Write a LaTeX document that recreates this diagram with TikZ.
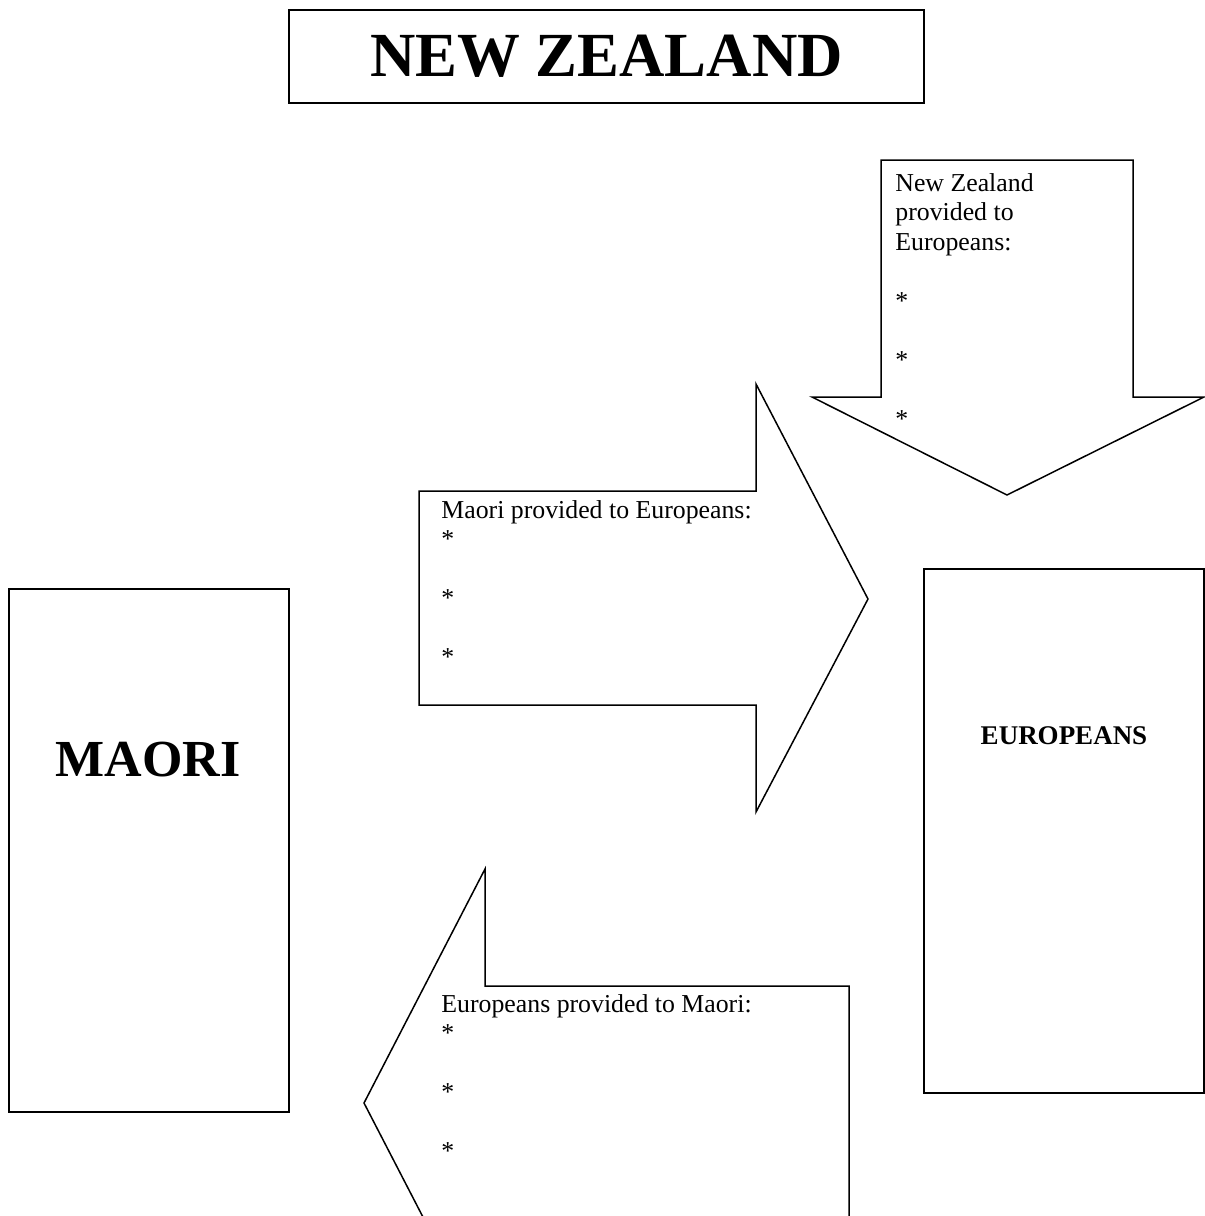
\documentclass[tikz,border=0pt]{standalone}
\usepackage{fontspec}
\setmainfont{Liberation Serif}
\newcommand{\blockln}[1]{\hbox{\strut #1}}
\begin{document}
\begin{tikzpicture}[x=0.5pt,y=-0.5pt,
  outline/.style={draw=black,line width=0.75pt,line join=miter},
  boxnode/.style={draw=black,line width=0.75pt,rectangle,inner sep=0pt},
  bodytext/.style={anchor=base west,inner sep=0pt,font=\fontsize{12.9}{14.75}\selectfont}]
\useasboundingbox (0,0) rectangle (1205,1216);
\clip (0,0) rectangle (1205,1216);
% title
\node[boxnode,minimum width=317.5pt,minimum height=46.5pt] (title) at (606.5,56.5) {};
\node[inner sep=0pt,font=\fontsize{31.4}{36}\selectfont\bfseries] (titletext) at (606.5,56.5) {NEW ZEALAND};
% Maori box
\node[boxnode,minimum width=140pt,minimum height=261.5pt] (maori) at (149,850.5) {};
\node[inner sep=0pt,font=\fontsize{26}{30}\selectfont\bfseries] (maoritext) at (148,760) {MAORI};
% Europeans box
\node[boxnode,minimum width=140pt,minimum height=262pt] (europeans) at (1064,831) {};
\node[inner sep=0pt,font=\fontsize{13.5}{16}\selectfont\bfseries] (europeanstext) at (1064,736) {EUROPEANS};
% down arrow: New Zealand -> Europeans
\draw[outline] (881,160) -- (1133,160) -- (1133,397) -- (1204,397) -- (1007,495) -- (812,397) -- (881,397) -- cycle;
\node[bodytext] (nztext) at (895,191) {\vtop{\hbox{New Zealand}\hbox{provided to}\hbox{Europeans:}\hbox{}\hbox{*}\hbox{}\hbox{*}\hbox{}\hbox{*}}};
% right arrow: Maori -> Europeans
\draw[outline] (419,491) -- (756,491) -- (756,384) -- (868,599) -- (756,812) -- (756,705) -- (419,705) -- cycle;
\node[bodytext] (maoriprov) at (441,518) {\vtop{\hbox{Maori provided to Europeans:}\hbox{*}\hbox{}\hbox{*}\hbox{}\hbox{*}}};
% left arrow: Europeans -> Maori
\draw[outline] (849,986) -- (485,986) -- (485,869) -- (364,1103) -- (485,1337) -- (485,1220) -- (849,1220) -- cycle;
\node[bodytext] (europrov) at (441,1012) {\vtop{\hbox{Europeans provided to Maori:}\hbox{*}\hbox{}\hbox{*}\hbox{}\hbox{*}}};
\end{tikzpicture}
\end{document}
